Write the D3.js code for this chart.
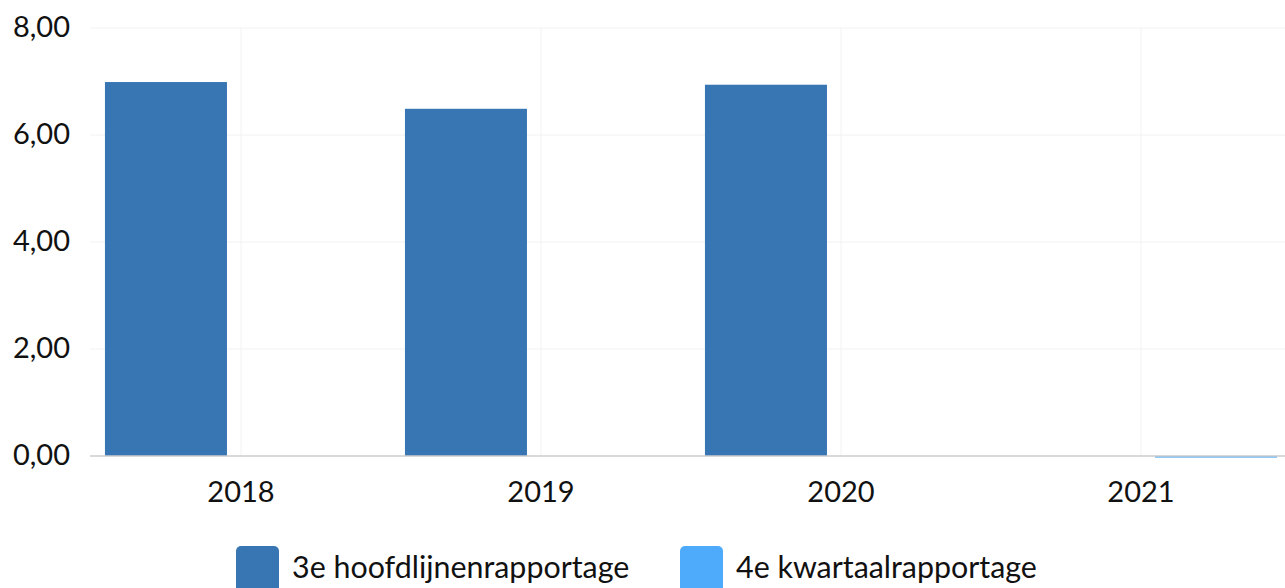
<!DOCTYPE html>
<html>
<head>
<meta charset="utf-8">
<script src="https://cdn.jsdelivr.net/npm/d3@7"></script>
<style>
    body { margin: 0; background: #fff; }
    text { font-family: Lato, sans-serif; fill: #111; }
</style>
</head>
<body>
<div id="bar-chart"></div>
<script>
const years = ["2018", "2019", "2020", "2021"];
const seriesNames = ["3e hoofdlijnenrapportage", "4e kwartaalrapportage"];
const hoofdlijnen = [6.99, 6.49, 6.94, 0];
const kwartaal = [0, 0, 0, -0.03];
const yTicks = [0, 2, 4, 6, 8];
const colors = ["#3776b3", "#4eabfc"];

const drawBarChart = () => {

    const width = 1285;
    const height = 588;

    const margin = { top: 28, right: -6, bottom: 132, left: 91 };
    const innerWidth = width - (margin.left + margin.right);
    const innerHeight = height - (margin.top + margin.bottom);

    const svg = d3.select("#bar-chart")
        .append("svg")
        .attr("width", width)
        .attr("height", height);

    const innerChart = svg
        .append("g")
        .attr("transform", `translate(${margin.left}, ${margin.top})`);

    const data = years.map((year, i) => ({
        year,
        values: [hoofdlijnen[i], kwartaal[i]]
    }));

    const xScale = d3.scaleBand()
        .domain(years)
        .range([0, innerWidth]);

    const xSub = d3.scaleBand()
        .domain(d3.range(seriesNames.length))
        .range([0, xScale.bandwidth()])
        .paddingInner(0.187)
        .paddingOuter(0.093);

    const yScale = d3.scaleLinear()
        .domain([0, 8])
        .range([innerHeight, 0]);

    // gridlines
    innerChart
        .selectAll(".grid-y")
        .data(yTicks.filter(d => d > 0))
        .join("line")
            .attr("x1", -1)
            .attr("x2", innerWidth)
            .attr("y1", d => yScale(d))
            .attr("y2", d => yScale(d))
            .attr("stroke", "#f2f2f2");

    innerChart
        .selectAll(".grid-x")
        .data(years)
        .join("line")
            .attr("x1", d => xScale(d) + xScale.bandwidth() / 2)
            .attr("x2", d => xScale(d) + xScale.bandwidth() / 2)
            .attr("y1", 0)
            .attr("y2", innerHeight)
            .attr("stroke", "#f2f2f2");

    // bars
    const groups = innerChart
        .selectAll(".year")
        .data(data)
        .join("g")
            .attr("transform", d => `translate(${xScale(d.year)}, 0)`);

    groups
        .selectAll("rect")
        .data(d => d.values.map((v, i) => ({ v, i })).filter(d => d.v !== 0))
        .join("rect")
            .attr("x", d => xSub(d.i))
            .attr("width", xSub.bandwidth())
            .attr("y", d => yScale(Math.max(0, d.v)))
            .attr("height", d => Math.max(1.5, Math.abs(yScale(d.v) - yScale(0))))
            .attr("fill", d => colors[d.i]);

    // x axis
    innerChart
        .append("line")
        .attr("x1", -1)
        .attr("x2", innerWidth)
        .attr("y1", yScale(0))
        .attr("y2", yScale(0))
        .attr("stroke", "#cccccc")
        .attr("stroke-width", 1.5);

    innerChart
        .selectAll(".x-label")
        .data(years)
        .join("text")
            .attr("x", d => xScale(d) + xScale.bandwidth() / 2)
            .attr("y", innerHeight + 46)
            .attr("text-anchor", "middle")
            .style("font-size", "29px")
            .text(d => d);

    // y axis labels
    const fmt = d => d3.format(".2f")(d).replace(".", ",");

    innerChart
        .selectAll(".y-label")
        .data(yTicks)
        .join("text")
            .attr("x", -21)
            .attr("y", d => yScale(d))
            .attr("dy", "0.32em")
            .attr("text-anchor", "end")
            .style("font-size", "29px")
            .text(d => fmt(d));

    // legend
    const legendX = [236, 680];
    const legend = svg
        .selectAll(".legend")
        .data(seriesNames)
        .join("g")
            .attr("transform", (d, i) => `translate(${legendX[i]}, 546)`);

    legend
        .append("rect")
        .attr("width", 43)
        .attr("height", 50)
        .attr("rx", 5)
        .attr("fill", (d, i) => colors[i]);

    legend
        .append("text")
        .attr("x", 56)
        .attr("y", 32)
        .style("font-size", "30.4px")
        .text(d => d);
};

drawBarChart();
</script>
</body>
</html>
